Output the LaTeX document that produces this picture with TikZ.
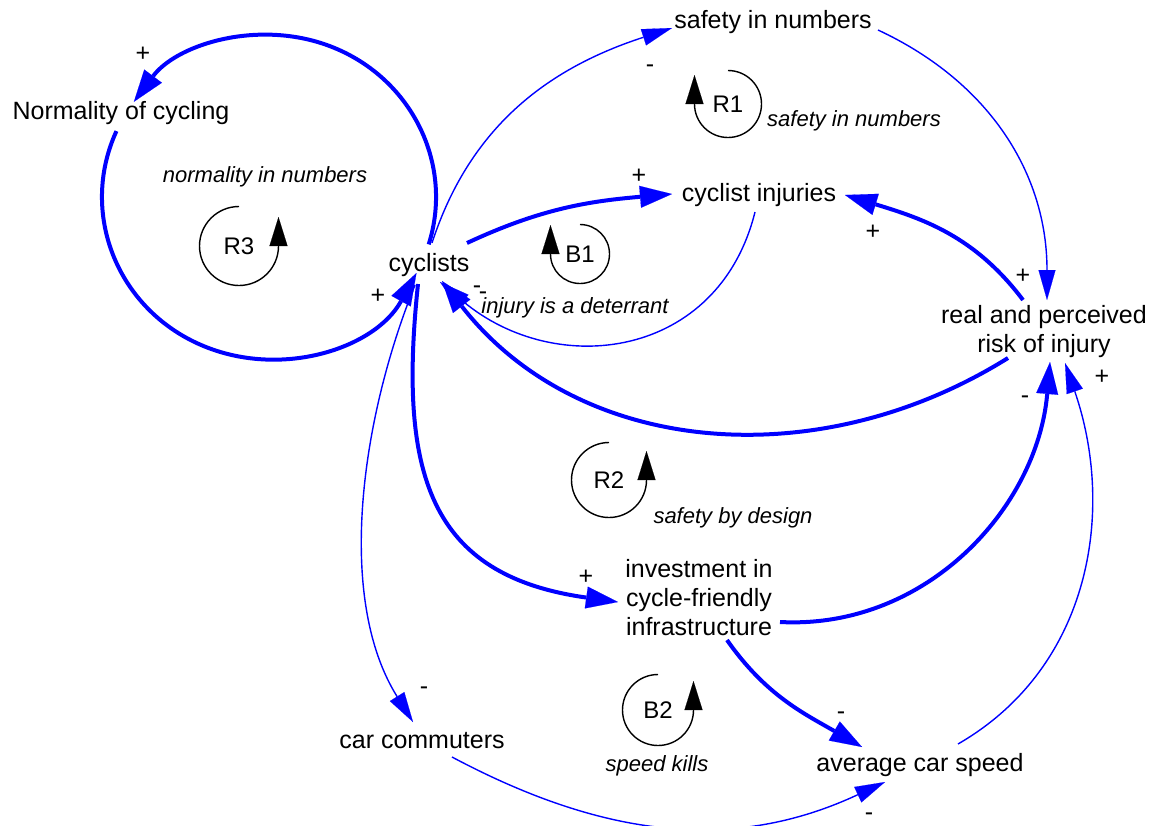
\documentclass[tikz,border=0pt]{standalone}
\usepackage{fontspec}
\setmainfont{Liberation Sans}
\usetikzlibrary{arrows.meta}
\definecolor{linkblue}{RGB}{0,0,255}
\begin{document}
\begin{tikzpicture}[x=1pt,y=1pt,
  var/.style={font=\fontsize{25}{29}\selectfont, align=center, inner sep=0pt},
  loopname/.style={font=\fontsize{22}{26}\selectfont\itshape, inner sep=0pt},
  looptag/.style={font=\fontsize{24}{28}\selectfont, inner sep=0pt},
  plussign/.style={font=\fontsize{25}{28}\selectfont, inner sep=0pt},
  minussign/.style={font=\fontsize{25}{28}\selectfont, inner sep=0pt, yshift=-3pt},
  thinlink/.style={draw=linkblue, line width=1.4pt, -{Triangle[length=30pt,width=17pt,line width=0.1pt,fill=linkblue]}},
  thicklink/.style={draw=linkblue, line width=4pt, -{Triangle[length=32pt,width=22pt,line width=0.1pt,fill=linkblue]}},
  loopmark/.style={draw=black, line width=1.4pt, -{Triangle[length=29pt,width=18pt,line width=0.1pt]}},
]
\fill[white] (0,0) rectangle (1153,-825);
\useasboundingbox (0,0) rectangle (1153,-825);

% variables
\node[var] (norm) at (121,-113) {Normality of cycling};
\node[var] (sin)  at (773,-22)  {safety in numbers};
\node[var] (inj)  at (759,-195) {cyclist injuries};
\node[var] (cyc)  at (429,-265) {cyclists};
\node[var] (risk) at (1044,-332) {real and perceived\\risk of injury};
\node[var] (inv)  at (699,-598) {investment in\\cycle-friendly\\infrastructure};
\node[var] (car)  at (422,-741) {car commuters};
\node[var] (avg)  at (920,-765) {average car speed};

% loop names
\node[loopname] (lnorm) at (265,-177) {normality in numbers};
\node[loopname] (lsin)  at (854,-121) {safety in numbers};
\node[loopname] (ldet)  at (575,-308) {injury is a deterrant};
\node[loopname] (ldes)  at (733,-518) {safety by design};
\node[loopname] (lspd)  at (657,-766) {speed kills};

% loop markers
\node[looptag] (tR3) at (239,-246) {R3};
\node[looptag] (tR1) at (728,-104) {R1};
\node[looptag] (tB1) at (580,-254) {B1};
\node[looptag] (tR2) at (609,-480) {R2};
\node[looptag] (tB2) at (658,-710) {B2};
\draw[loopmark] ([yshift=39.5]tR3.center) arc[start angle=90,end angle=360,radius=39.5] -- ++(0,29);
\draw[loopmark] ([yshift=33.5]tR1.center) arc[start angle=90,end angle=-180,radius=33.5] -- ++(0,29);
\draw[loopmark] ([yshift=29.5]tB1.center) arc[start angle=90,end angle=-180,radius=29.5] -- ++(0,29);
\draw[loopmark] ([yshift=37.5]tR2.center) arc[start angle=90,end angle=360,radius=37.5] -- ++(0,29);
\draw[loopmark] ([yshift=35.5]tB2.center) arc[start angle=90,end angle=360,radius=35.5] -- ++(0,29);

% big circle R3
\coordinate (c3) at (269,-197);
\draw[thicklink] ([shift={(-17:167 and 162)}]c3) arc[start angle=-17,end angle=144,x radius=167,y radius=162];
\draw[thicklink] ([shift={(156:167 and 162)}]c3) arc[start angle=156,end angle=332,x radius=167,y radius=162];

% links
\draw[thinlink] ([shift={(3,22)}]cyc.center) to[out=72,in=198] ([shift={(-101,-6)}]sin.center);
\draw[thinlink] ([shift={(105,-8)}]sin.center) to[out=-25,in=90] ([shift={(3,32)}]risk.center);
\draw[thicklink] ([shift={(38,22)}]cyc.center) to[out=25,in=185] ([shift={(-87,1)}]inj.center);
\draw[thinlink] ([shift={(-4,-17)}]inj.center) to[out=-104,in=-40,looseness=1.2] ([shift={(11,-17)}]cyc.center);
\draw[thicklink] ([shift={(-21,32)}]risk.center) to[out=127,in=-17] ([shift={(86,0)}]inj.center);
\draw[thicklink] ([shift={(-36,-26)}]risk.center) to[out=212,in=-52] ([shift={(13,-16)}]cyc.center);
\draw[thicklink] ([shift={(-11,-19)}]cyc.center) to[out=-96,in=172,looseness=1.3] ([shift={(-81,-4)}]inv.center);
\draw[thinlink] ([shift={(-14,-20)}]cyc.center) to[out=-112,in=122,looseness=0.85] ([shift={(-9,19)}]car.center);
\draw[thicklink] ([shift={(81,-24)}]inv.center) to[out=-3,in=-95] ([shift={(6,-30)}]risk.center);
\draw[thicklink] ([shift={(28,-42)}]inv.center) to[out=-55,in=150] ([shift={(-58,18)}]avg.center);
\draw[thinlink] ([shift={(38,21)}]avg.center) to[out=30,in=-71] ([shift={(21,-31)}]risk.center);
\draw[thinlink] ([shift={(30,-16)}]car.center) to[out=-28,in=205] ([shift={(-35,-17)}]avg.center);

% polarities
\node[plussign] (p1) at (143,-54) {+};
\node[plussign] (p2) at (378,-296) {+};
\node[minussign] (p3) at (650,-66) {-};
\node[plussign] (p4) at (639,-176) {+};
\node[minussign] (p5) at (477,-287) {-};
\node[minussign] (p6) at (483,-293) {-};
\node[plussign] (p7) at (873,-232) {+};
\node[plussign] (p8) at (1023,-276) {+};
\node[minussign] (p9) at (1025,-397) {-};
\node[plussign] (p10) at (1102,-377) {+};
\node[plussign] (p11) at (586,-577) {+};
\node[minussign] (p12) at (424,-688) {-};
\node[minussign] (p13) at (841,-713) {-};
\node[minussign] (p14) at (869,-814) {-};
\end{tikzpicture}
\end{document}
